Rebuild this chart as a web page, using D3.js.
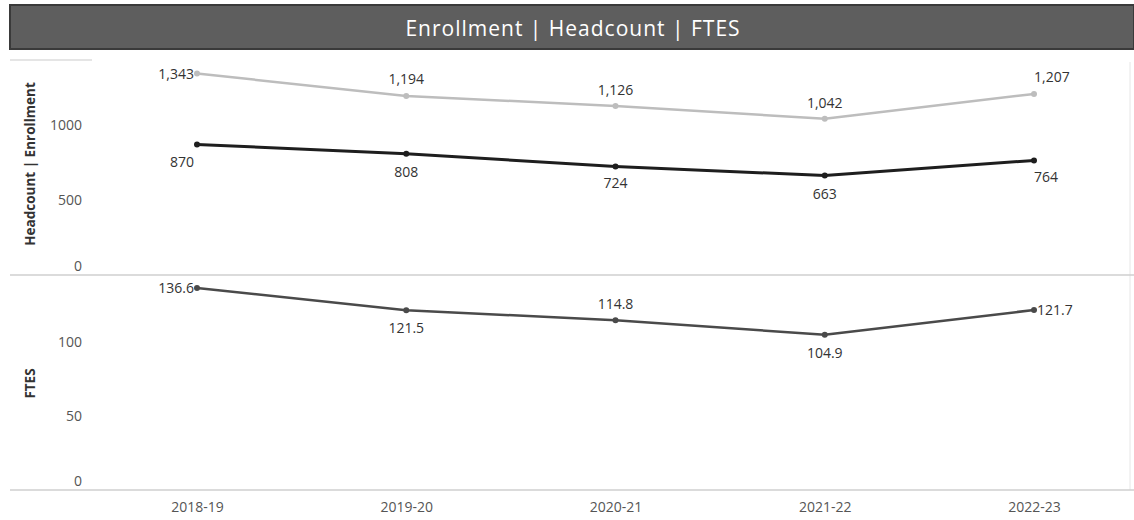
<!DOCTYPE html>
<html>
<head>
<meta charset="utf-8">
<script src="https://cdn.jsdelivr.net/npm/d3@7"></script>
<style>
  body { margin: 0; background: #fff; }
  #chart text { font-family: "Open Sans", Lato, sans-serif; }
</style>
</head>
<body>
<div id="chart"></div>
<script>
const years = ["2018-19", "2019-20", "2020-21", "2021-22", "2022-23"];
const enrollment = [1343, 1194, 1126, 1042, 1207];
const headcount = [870, 808, 724, 663, 764];
const ftes = [136.6, 121.5, 114.8, 104.9, 121.7];
const topTicks = [0, 500, 1000];
const bottomTicks = [0, 50, 100];

const width = 1134, height = 520;
const svg = d3.select("#chart").append("svg")
    .attr("width", width)
    .attr("height", height);

// title bar
svg.append("rect")
    .attr("x", 10).attr("y", 5)
    .attr("width", 1124).attr("height", 44)
    .attr("fill", "#5e5e5e")
    .attr("stroke", "#3a3a3a")
    .attr("stroke-width", 2);
svg.append("text")
    .attr("x", 573).attr("y", 36)
    .attr("text-anchor", "middle")
    .attr("fill", "#fff")
    .style("font-size", "21px")
    .style("letter-spacing", "1px")
    .text("Enrollment | Headcount | FTES");

svg.append("line")
    .attr("x1", 10).attr("x2", 92).attr("y1", 60).attr("y2", 60)
    .attr("stroke", "#ddd").attr("stroke-width", 1.5);

const x = d3.scalePoint().domain(years).range([197, 1034]);
const yTop = d3.scaleLinear().domain([0, 1420]).range([275, 62]);
const yBot = d3.scaleLinear().domain([0, 144]).range([490, 277]);

// pane border on the right
svg.append("line")
    .attr("x1", 1130).attr("x2", 1130).attr("y1", 62).attr("y2", 490)
    .attr("stroke", "#e6e6e6");

// zero lines
[yTop(0), yBot(0)].forEach(y => {
    svg.append("line")
        .attr("x1", 10).attr("x2", 1134).attr("y1", y).attr("y2", y)
        .attr("stroke", "#cfcfcf").attr("stroke-width", 1.5);
});

const styleAxis = (g) => {
    g.select(".domain").remove();
    g.selectAll("line").remove();
    g.selectAll("text")
        .style("font-size", "14px")
        .attr("fill", "#555")
        .filter(d => d === 0)
        .attr("dy", "-0.3em");
};

svg.append("g")
    .attr("transform", "translate(92,0)")
    .call(d3.axisLeft(yTop).tickValues(topTicks).tickSize(0).tickPadding(10).tickFormat(d3.format("d")))
    .call(styleAxis);

svg.append("g")
    .attr("transform", "translate(92,0)")
    .call(d3.axisLeft(yBot).tickValues(bottomTicks).tickSize(0).tickPadding(10).tickFormat(d3.format("d")))
    .call(styleAxis);

const xAxis = svg.append("g")
    .attr("transform", "translate(0,496)")
    .call(d3.axisBottom(x).tickSize(0).tickPadding(6));
xAxis.select(".domain").remove();
xAxis.selectAll("text").style("font-size", "14px").attr("fill", "#555");

svg.append("text")
    .attr("transform", "rotate(-90)")
    .attr("x", -yTop(740)).attr("y", 35)
    .attr("text-anchor", "middle")
    .style("font-size", "13.5px")
    .style("font-weight", "bold")
    .attr("fill", "#333")
    .text("Headcount | Enrollment");

svg.append("text")
    .attr("transform", "rotate(-90)")
    .attr("x", -yBot(72)).attr("y", 35)
    .attr("text-anchor", "middle")
    .style("font-size", "13.5px")
    .style("font-weight", "bold")
    .attr("fill", "#333")
    .text("FTES");

// label placement per point: [dx, dy, anchor]
const enrollPos = [[-3, 5, "end"], [0, -12, "middle"], [0, -11, "middle"], [0, -11, "middle"], [0, -12, "start"]];
const headPos = [[-3, 22, "end"], [0, 23, "middle"], [0, 22, "middle"], [0, 23, "middle"], [0, 22, "start"]];
const ftesPos = [[-3, 5, "end"], [0, 23, "middle"], [0, -11, "middle"], [0, 23, "middle"], [3, 5, "start"]];

const drawSeries = (values, y, color, lineW, pos, fmt) => {
    const line = d3.line()
        .x((d, i) => x(years[i]))
        .y(d => y(d));
    svg.append("path")
        .datum(values)
        .attr("d", line)
        .attr("fill", "none")
        .attr("stroke", color)
        .attr("stroke-width", lineW)
        .attr("stroke-linejoin", "round");
    svg.selectAll(null)
        .data(values)
        .enter()
        .append("circle")
        .attr("cx", (d, i) => x(years[i]))
        .attr("cy", d => y(d))
        .attr("r", 3)
        .attr("fill", color);
    svg.selectAll(null)
        .data(values)
        .enter()
        .append("text")
        .attr("x", (d, i) => x(years[i]) + pos[i][0])
        .attr("y", (d, i) => y(d) + pos[i][1])
        .attr("text-anchor", (d, i) => pos[i][2])
        .style("font-size", "14px")
        .attr("fill", "#333")
        .text(d => fmt(d));
};

drawSeries(enrollment, yTop, "#bdbdbd", 2.5, enrollPos, d3.format(","));
drawSeries(headcount, yTop, "#1e1e1e", 3, headPos, d3.format(","));
drawSeries(ftes, yBot, "#4a4a4a", 2.5, ftesPos, d3.format(".1f"));
</script>
</body>
</html>
